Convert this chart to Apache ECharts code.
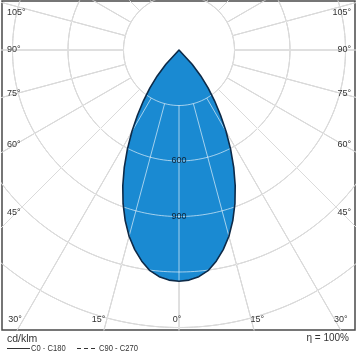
<!DOCTYPE html>
<html>
<head>
<meta charset="utf-8">
<script src="https://cdn.jsdelivr.net/npm/echarts@6/dist/echarts.min.js"></script>
<style>
html,body{margin:0;padding:0;background:#fff;}
#c{width:357px;height:357px;}
</style>
</head>
<body>
<div id="c"></div>
<script>
// ---- data ----
const GAMMA = [0, 2.5, 5, 7.5, 10, 12.5, 15, 17.5, 20, 22.5, 25, 27.5, 30, 32.5, 35, 37.5, 40, 42.5, 45];
const INTENSITY_C0_C180 = [1250, 1245, 1230, 1203, 1159, 1105, 1042, 967, 884, 794, 700, 604, 509, 418, 335, 258, 183, 105, 0];
const RINGS = [300, 600, 900, 1200, 1500, 1800, 2100];
const RADIAL_ANGLES = [0, 15, 30, 45, 60, 75, 90, 105, 120, 135, 150, 165, 180];
const SIDE_LABELS = [105, 90, 75, 60, 45];
const BOTTOM_LABELS = [-30, -15, 0, 15, 30];
const INTENSITY_LABELS = [600, 900];
const UNIT = 'cd/klm';
const LEGEND = ['C0 - C180', 'C90 - C270'];
const EFFICIENCY = 'η = 100%';

// ---- layout ----
const CX = 179, CY = 50, K = 0.185;
const L = 2, T = 1, R = 355, B = 330;
const FONT = 'Liberation Sans, Arial, sans-serif';
const rad = d => d * Math.PI / 180;

function ringPts(r) {
  const p = [];
  for (let a = 0; a <= 360; a += 1) p.push([r * Math.sin(rad(a)), -r * Math.cos(rad(a))]);
  return p;
}
function radialPts(g) {
  return [[RINGS[0] * Math.sin(rad(g)), -RINGS[0] * Math.cos(rad(g))],
          [3000 * Math.sin(rad(g)), -3000 * Math.cos(rad(g))]];
}
const gridGeoms = [];
RINGS.forEach(r => gridGeoms.push(ringPts(r)));
RADIAL_ANGLES.forEach(g => {
  gridGeoms.push(radialPts(g));
  if (g !== 0 && g !== 180) gridGeoms.push(radialPts(-g));
});

function lineSeries(pts, color, z) {
  return {type: 'line', data: pts, symbol: 'none', showSymbol: false, silent: true,
    animation: false, clip: true, z: z, lineStyle: {color: color, width: 1}};
}

// lobe polygon (left side C180 then right side C0)
const lobe = [];
for (let i = 0; i < GAMMA.length; i++) {
  const I = INTENSITY_C0_C180[i], g = GAMMA[i];
  lobe.push([-I * Math.sin(rad(g)), -I * Math.cos(rad(g))]);
}
for (let i = GAMMA.length - 1; i >= 0; i--) {
  const I = INTENSITY_C0_C180[i], g = GAMMA[i];
  lobe.push([I * Math.sin(rad(g)), -I * Math.cos(rad(g))]);
}

const series = [];
gridGeoms.forEach(p => series.push(lineSeries(p, '#a6a6a6', 1)));
series.push({type: 'custom', coordinateSystem: 'cartesian2d', data: [[0, 0]], z: 2, silent: true, animation: false,
  renderItem: (params, api) => ({type: 'polygon', shape: {points: lobe.map(p => api.coord(p))},
    style: {fill: '#1a8ad2', stroke: null}})});
gridGeoms.forEach(p => series.push(lineSeries(p, 'rgba(255,255,255,0.6)', 3)));
series.push({type: 'custom', coordinateSystem: 'cartesian2d', data: [[0, 0]], z: 4, silent: true, animation: false,
  renderItem: (params, api) => ({type: 'polygon', shape: {points: lobe.map(p => api.coord(p))},
    style: {fill: null, stroke: '#0d2a48', lineWidth: 1.6, lineJoin: 'round'}})});

const chart = echarts.init(document.getElementById('c'), null, {renderer: 'canvas'});
chart.setOption({
  animation: false,
  backgroundColor: '#fff',
  grid: {left: L, top: T, width: R - L, height: B - T, show: true, borderColor: '#4a4a4a', borderWidth: 1.5, containLabel: false},
  xAxis: {type: 'value', min: (L - CX) / K, max: (R - CX) / K, show: false},
  yAxis: {type: 'value', min: (CY - B) / K, max: (CY - T) / K, show: false},
  series: series
});

// ---- labels ----
const g = [];
const txt = (x, y, s, align, size, sx) => ({type: 'text', x: x, y: y, z: 100, scaleX: sx || 1,
  style: {text: s, fill: '#333', font: size + 'px ' + FONT, textAlign: align, textVerticalAlign: 'middle'}});
const xIn = (CX - 16) / K;
SIDE_LABELS.forEach(a => {
  const t = xIn / Math.sin(rad(a));
  const pL = chart.convertToPixel({gridIndex: 0}, [-xIn, -t * Math.cos(rad(a))]);
  const y = Math.max(13, pL[1]);
  g.push(txt(7, y, a + '°', 'left', 9));
  g.push(txt(351, y, a + '°', 'right', 9));
});
const yB = 320;
const dataYB = chart.convertFromPixel({gridIndex: 0}, [0, yB])[1];
BOTTOM_LABELS.forEach(a => {
  const px = chart.convertToPixel({gridIndex: 0}, [-dataYB * Math.tan(rad(a)), dataYB])[0];
  let x = px + (a > 0 ? 6 : a < 0 ? -8 : -2);
  x = Math.min(343, Math.max(15, x));
  g.push(txt(x, yB, Math.abs(a) + '°', 'center', 9));
});
INTENSITY_LABELS.forEach(v => {
  const p = chart.convertToPixel({gridIndex: 0}, [0, -v]);
  g.push({type: 'text', x: p[0], y: p[1], z: 100,
    style: {text: String(v), fill: '#0f2438', font: '9px ' + FONT, textAlign: 'center', textVerticalAlign: 'middle'}});
});
g.push(txt(7, 339, UNIT, 'left', 10.5));
g.push({type: 'line', shape: {x1: 7, y1: 348.5, x2: 30, y2: 348.5}, style: {stroke: '#333', lineWidth: 1}});
g.push(txt(31, 348, LEGEND[0], 'left', 9.5, 0.8));
g.push({type: 'line', shape: {x1: 77, y1: 348.5, x2: 97, y2: 348.5}, style: {stroke: '#333', lineWidth: 1, lineDash: [4, 3]}});
g.push(txt(99, 348, LEGEND[1], 'left', 9.5, 0.8));
g.push(txt(349, 338, EFFICIENCY, 'right', 10));
chart.setOption({graphic: g});
</script>
</body>
</html>
